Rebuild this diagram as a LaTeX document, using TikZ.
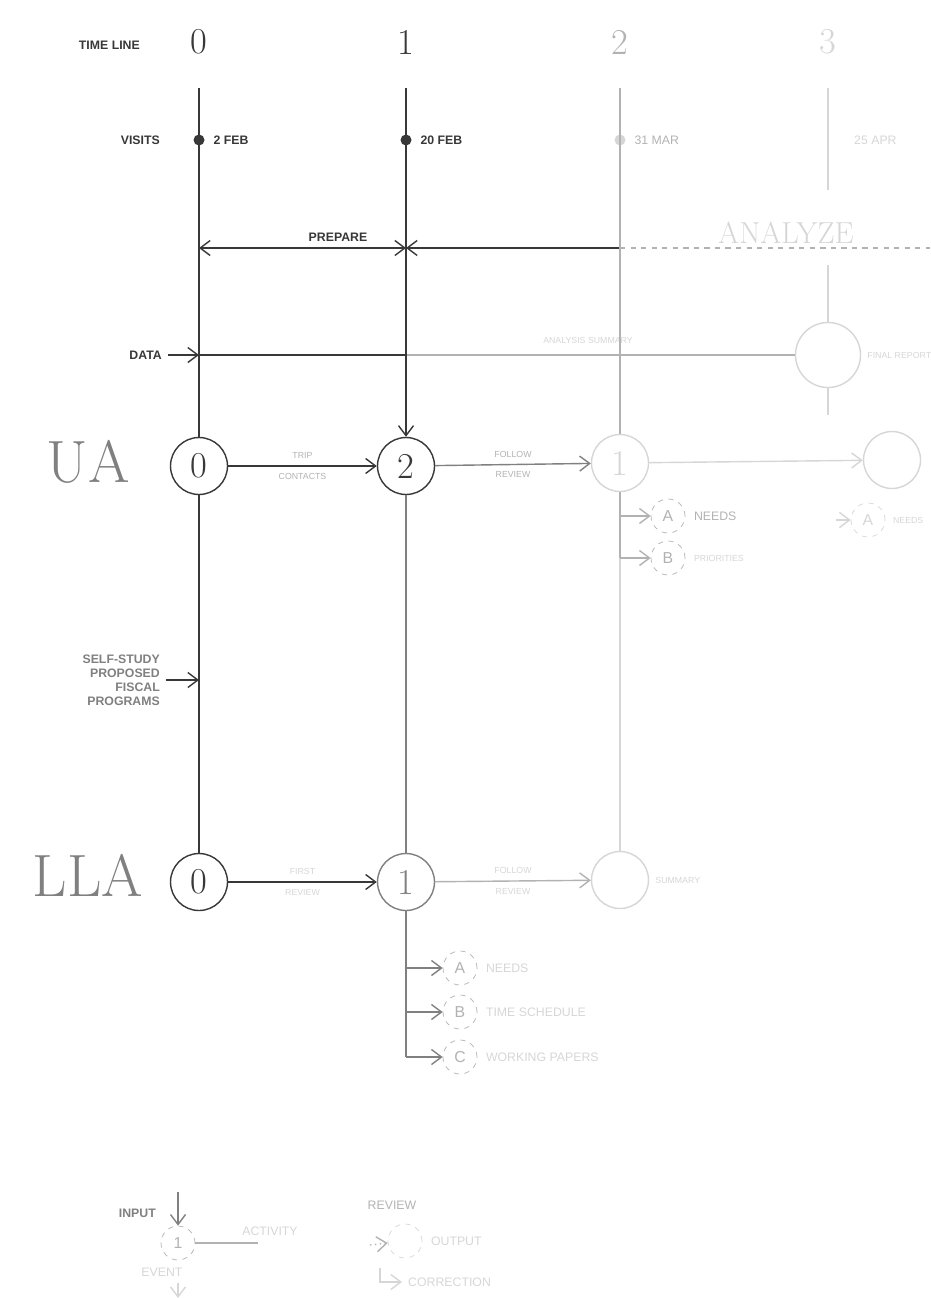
\documentclass[tikz,border=0pt]{standalone}
\usepackage{fontspec}
\setsansfont{Liberation Sans}
\usetikzlibrary{arrows.meta,positioning,calc}
\definecolor{ink}{gray}{0.22}
\definecolor{fadeA}{gray}{0.5}
\definecolor{fadeB}{gray}{0.7}
\definecolor{fadeC}{gray}{0.84}

\begin{document}
\begin{tikzpicture}[
  x=0.02cm,y=-0.02cm,
  every node/.style={font=\sffamily\scriptsize,text=ink},
  lbl/.style={font=\sffamily\bfseries\scriptsize},
  evt/.style={draw=#1,text=#1,circle,thick,minimum size=11.4mm,inner sep=0pt,font=\huge},
  evt/.default=ink,
  sub/.style={draw=#1,text=#1,circle,dashed,minimum size=6.8mm,inner sep=0pt,font=\sffamily\small},
  sub/.default=fadeB,
  arr/.style={-{Straight Barb[length=2mm,width=3mm]},thick,color=#1},
  arr/.default=ink,
  rail/.style={thick,color=#1},
  rail/.default=ink,
  tiny/.style={font=\sffamily\tiny,text=#1},
  tiny/.default=fadeB,
  big/.style={font=\fontsize{34}{34}\selectfont,text=#1},
  big/.default=fadeA
]
\useasboundingbox (0,0) rectangle (930,1298);

% time line
\node[lbl,anchor=east] (tl) at (146,45) {TIME LINE};
\node[font=\huge] (t0) at (199,42) {0};
\node[font=\huge] (t1) at (406,42) {1};
\node[font=\huge,text=fadeB] (t2) at (620,42) {2};
\node[font=\huge,text=fadeC] (t3) at (828,42) {3};
\coordinate (top0) at (199,88);
\coordinate (top1) at (406,88);
\coordinate (top2) at (620,88);
\coordinate (top3) at (828,88);

% visits
\node[lbl,anchor=east] (vis) at (166,140) {VISITS};
\node[circle,fill=ink,inner sep=0pt,minimum size=2.2mm] (v0) at (199,140) {};
\node[circle,fill=ink,inner sep=0pt,minimum size=2.2mm] (v1) at (406,140) {};
\node[circle,fill=fadeC,inner sep=0pt,minimum size=2.2mm] (v2) at (620,140) {};
\node[lbl,right=0.5mm of v0] {2 FEB};
\node[lbl,right=0.5mm of v1] {20 FEB};
\node[right=0.5mm of v2,text=fadeB] {31 MAR};
\node[anchor=west,text=fadeC] (v3) at (848,140) {25 APR};

% phases
\coordinate (p0) at (199,248);
\coordinate (p1) at (406,248);
\coordinate (p2) at (620,248);
\coordinate (p3) at (930,248);
\draw[{Straight Barb[length=2mm,width=3mm]}-{Straight Barb[length=2mm,width=3mm]},thick,ink] (p0) -- (p1);
\draw[{Straight Barb[length=2mm,width=3mm]}-,thick,ink] (p1) -- (p2);
\draw[thick,fadeB,dashed] (p2) -- (p3);
\node[lbl,anchor=south] (prep) at (338,248) {PREPARE};
\node[anchor=south west,font=\LARGE,text=fadeC] (anl) at (712,250) {ANALYZE};

% UA events
\node[big] (ua) at (88,462) {UA};
\node[evt] (ue0) at (199,466) {0};
\node[evt] (ue1) at (406,466) {2};
\node[evt=fadeC] (ue2) at (620,463) {1};
\node[evt=fadeC] (ue3) at (892,460) {};

% LLA events
\node[big] (lla) at (88,875) {LLA};
\node[evt] (le0) at (199,882) {0};
\node[evt=fadeA] (le1) at (406,882) {1};
\node[evt=fadeC] (le2) at (620,880) {};

% data
\node[evt=fadeC,minimum size=13mm] (da) at (828,355) {};
\node[lbl,anchor=east] (data) at (168,355) {DATA};
\coordinate (d0) at (199,355);
\draw[arr] (data) -- (d0);
\draw[rail] (d0) -- (406,355);
\draw[rail=fadeB] (406,355) -- (da.west);
\node[tiny=fadeC] at (588,340) {ANALYSIS SUMMARY};
\node[tiny=fadeC,anchor=west] at (da.east) {FINAL REPORT};

% columns
\draw[rail] (top0) -- (ue0);
\draw[rail] (ue0) -- (le0);
\draw[arr] (top1) -- (ue1);
\draw[rail=fadeA] (ue1) -- (le1);
\draw[rail=fadeB] (top2) -- (ue2);
\draw[rail=fadeC] (ue2) -- (le2);
\draw[rail=fadeC] (top3) -- (828,190);
\draw[rail=fadeC] (828,265) -- (da);
\draw[rail=fadeC] (da) -- (828,415);

% self-study input
\node[lbl,anchor=east,align=right,text=fadeA] (self) at (166,680) {SELF-STUDY\\PROPOSED\\FISCAL\\PROGRAMS};
\coordinate (s0) at (199,680);
\draw[arr] (self) -- (s0);

% UA activities
\draw[arr] (ue0) -- (ue1);
\node[tiny,above=0.2mm of $(ue0)!0.5!(ue1)$] {TRIP};
\node[tiny,below=0.2mm of $(ue0)!0.5!(ue1)$] {CONTACTS};
\draw[arr=fadeA] (ue1) -- (ue2);
\node[tiny,above=0.2mm of $(ue1)!0.5!(ue2)$] {FOLLOW};
\node[tiny,below=0.2mm of $(ue1)!0.5!(ue2)$] {REVIEW};
\draw[arr=fadeC] (ue2) -- (ue3);

% LLA activities
\draw[arr] (le0) -- (le1);
\node[tiny=fadeC,above=0.2mm of $(le0)!0.5!(le1)$] {FIRST};
\node[tiny=fadeC,below=0.2mm of $(le0)!0.5!(le1)$] {REVIEW};
\draw[arr=fadeB] (le1) -- (le2);
\node[tiny=fadeC,above=0.2mm of $(le1)!0.5!(le2)$] {FOLLOW};
\node[tiny=fadeC,below=0.2mm of $(le1)!0.5!(le2)$] {REVIEW};
\node[tiny=fadeC,anchor=west] at (le2.east) {SUMMARY};

% UA outputs
\node[sub] (uA) at (668,516) {A};
\node[sub] (uB) at (668,558) {B};
\coordinate (ub) at (620,558);
\draw[rail=fadeB] (ue2) -- (ub);
\draw[arr=fadeB] (620,516) -- (uA);
\draw[arr=fadeB] (ub) -- (uB);
\node[right=0.5mm of uA,text=fadeB] {NEEDS};
\node[right=0.5mm of uB,tiny=fadeC] {PRIORITIES};
\node[sub=fadeC] (vA) at (868,520) {A};
\draw[arr=fadeC] (836,520) -- (vA);
\node[right=0.3mm of vA,tiny=fadeC] {NEEDS};

% LLA outputs
\node[sub] (lA) at (460,968) {A};
\node[sub] (lB) at (460,1012) {B};
\node[sub] (lC) at (460,1057) {C};
\coordinate (lc) at (406,1057);
\draw[rail=fadeA] (le1) -- (lc);
\draw[arr=fadeA] (406,968) -- (lA);
\draw[arr=fadeA] (406,1012) -- (lB);
\draw[arr=fadeA] (lc) -- (lC);
\node[right=0.5mm of lA,text=fadeC] {NEEDS};
\node[right=0.5mm of lB,text=fadeC] {TIME SCHEDULE};
\node[right=0.5mm of lC,text=fadeC] {WORKING PAPERS};

% legend
\node[lbl,anchor=east,text=fadeA] (inp) at (162,1213) {INPUT};
\node[sub] (lg1) at (178,1243) {1};
\coordinate (in0) at (178,1192);
\draw[arr=fadeA] (in0) -- (lg1);
\coordinate (act) at (258,1243);
\draw[rail=fadeB] (lg1) -- (act);
\node[text=fadeC] at (270,1231) {ACTIVITY};
\node[text=fadeC] at (162,1272) {EVENT};
\coordinate (ev1) at (178,1283);
\coordinate (ev0) at (178,1298);
\draw[arr=fadeC] (ev1) -- (ev0);
\node[text=fadeB] (rev) at (392,1205) {REVIEW};
\node[sub=fadeC] (lg2) at (405,1241) {};
\coordinate (out0) at (370,1245);
\draw[arr=fadeB,dotted] (out0) -- (lg2);
\node[right=0.5mm of lg2,text=fadeC] {OUTPUT};
\node[text=fadeC,anchor=west] (cor) at (402,1282) {CORRECTION};
\coordinate (cr0) at (380,1268);
\draw[arr=fadeC] (cr0) |- (cor);
\end{tikzpicture}
\end{document}
